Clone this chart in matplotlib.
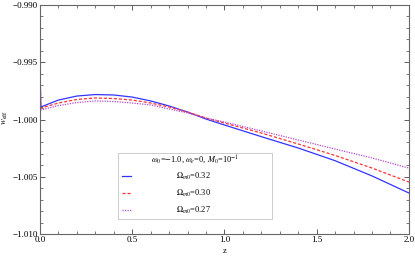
import numpy as np
import matplotlib.pyplot as plt
from matplotlib.ticker import MultipleLocator, FuncFormatter
from matplotlib.patches import Rectangle

plt.rcParams['font.family'] = ['Liberation Serif', 'DejaVu Serif']
plt.rcParams['mathtext.fontset'] = 'stix'

# redshift samples (first point is the spike at z=0)
z = [0.0, 0.004, 0.1, 0.2, 0.3, 0.4, 0.5, 0.6, 0.7, 0.8, 0.9, 1.0, 1.2, 1.4, 1.6, 1.8, 2.0]

w_032 = [-0.99500, -0.99891, -0.99830, -0.99795, -0.99782, -0.99786, -0.99804, -0.99838,
         -0.99882, -0.99935, -0.99996, -1.00048, -1.00150, -1.00249, -1.00360, -1.00493, -1.00642]
w_030 = [-0.99500, -0.99900, -0.99856, -0.99825, -0.99812, -0.99817, -0.99830, -0.99856,
         -0.99891, -0.99935, -0.99987, -1.00031, -1.00118, -1.00214, -1.00314, -1.00424, -1.00546]
w_027 = [-0.99500, -0.99917, -0.99878, -0.99852, -0.99838, -0.99843, -0.99856, -0.99873,
         -0.99908, -0.99943, -0.99987, -1.00022, -1.00100, -1.00179, -1.00258, -1.00336, -1.00424]

labels = [r'$\Omega_{m0}$=0.32', r'$\Omega_{m0}$=0.30', r'$\Omega_{m0}$=0.27']
legend_title = r'$\omega_0$=$-$1.0, $\omega_e$=0, $M_0$=10$^{-1}$'
colors = ['#3333ff', '#ff3333', '#b44ccc']
styles = ['-', (0, (2.5, 1.5)), (0, (1, 1))]

fig = plt.figure(figsize=(4.15, 2.59), dpi=100)
ax = fig.add_axes([0.0964, 0.0965, 0.889, 0.8842])

for w, c, ls in zip([w_032, w_030, w_027], colors, styles):
    ax.plot(z, w, color=c, lw=0.9, ls=ls)

ax.set_xlim(0, 2.0)
ax.set_ylim(-1.010, -0.990)
ax.xaxis.set_major_locator(MultipleLocator(0.5))
ax.xaxis.set_minor_locator(MultipleLocator(0.1))
ax.yaxis.set_major_locator(MultipleLocator(0.005))
ax.yaxis.set_minor_locator(MultipleLocator(0.001))
ax.xaxis.set_major_formatter(FuncFormatter(lambda v, p: '%.1f' % v))
ax.yaxis.set_major_formatter(FuncFormatter(lambda v, p: ('%.3f' % v).replace('-', '\u2212')))
ax.tick_params(which='both', direction='in', top=True, right=True, labelsize=6.5, pad=1.5, color='#444444')
ax.tick_params(which='major', length=3.5, width=0.6)
ax.tick_params(which='minor', length=2, width=0.5)
for s in ax.spines.values():
    s.set_color('#666666')
    s.set_linewidth(0.8)

ax.set_xlabel('z', fontsize=6.5, labelpad=2)
ax.set_ylabel(r'$w_{\rm eff}$', fontsize=6.5, labelpad=1)
ax.yaxis.set_label_coords(-0.08, 0.51)

# legend box drawn by hand (text centred like the original)
ax.add_patch(Rectangle((0.211, 0.0655), 0.418, 0.2885, transform=ax.transAxes,
                       facecolor='white', edgecolor='#cccccc', lw=0.7, zorder=5))
ax.text(0.42, 0.323, legend_title, transform=ax.transAxes, ha='center', va='center',
        fontsize=6, zorder=6)
for i, (lab, c, ls) in enumerate(zip(labels, colors, styles)):
    yy = 0.253 - i * 0.074
    ax.plot([0.222, 0.246], [yy, yy], transform=ax.transAxes, color=c, lw=0.9, ls=ls, zorder=6)
    ax.text(0.415, yy, lab, transform=ax.transAxes, ha='center', va='center', fontsize=6, zorder=6)

fig.savefig('out.png', dpi=100)
